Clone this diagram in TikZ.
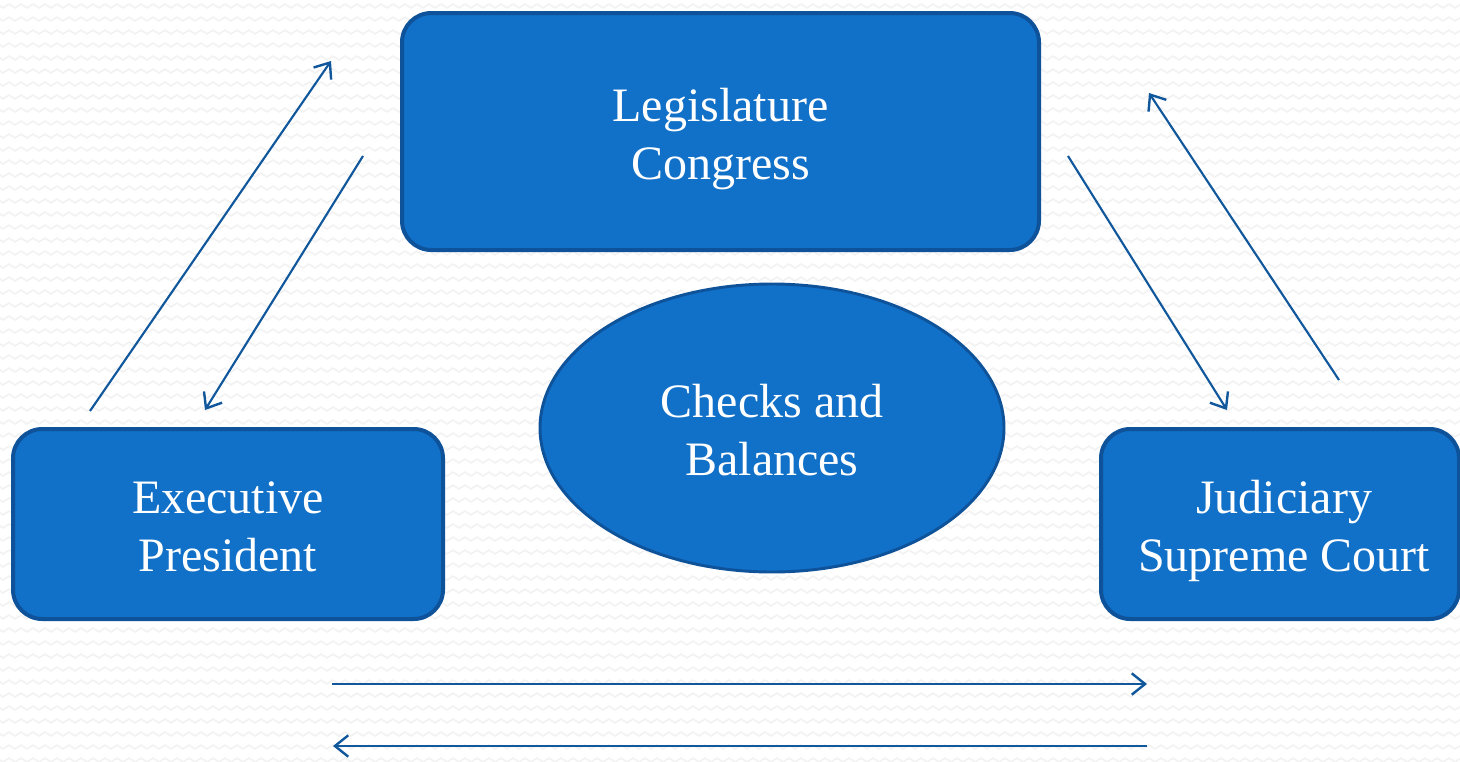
\documentclass[tikz,border=0pt]{standalone}
\usepackage{fontspec}
\setmainfont{Liberation Serif}
\usetikzlibrary{arrows.meta,shapes.geometric,decorations.pathmorphing,calc}
\definecolor{boxfill}{HTML}{1170C8}
\definecolor{boxline}{HTML}{0E529A}
\definecolor{arrowc}{HTML}{10579C}
\definecolor{zig}{HTML}{F2F2F2}
\tikzset{
  branch/.style={draw=boxline, fill=boxfill, line width=3pt, rounded corners=22pt, inner sep=0pt},
  hub/.style={ellipse, draw=boxline, fill=boxfill, line width=2.2pt, inner sep=0pt},
  caption/.style={text=white, align=center, font=\fontsize{36}{43.5}\selectfont, inner sep=0pt},
  check/.style={draw=arrowc, line width=1.6pt,
    -{Straight Barb[length=10pt,width=16pt,line width=1.8pt]}},
  bgzig/.style={draw=zig, line width=1.2pt, decorate,
    decoration={zigzag, segment length=9pt, amplitude=1.4pt}}
}
\begin{document}
\begin{tikzpicture}[x=0.75pt,y=-0.75pt]
  \useasboundingbox (0,0) rectangle (1460,761);
  % patterned backdrop
  \fill[white] (0,0) rectangle (1460,761);
  \begin{scope}
    \clip (0,0) rectangle (1460,761);
    \foreach \r in {0,...,60} {
      \draw[bgzig] (-6,{6+13*\r}) -- (1470,{6+13*\r});
    }
  \end{scope}

  % the three branches
  \node[branch, minimum width=637*0.75pt, minimum height=237*0.75pt] (leg) at (720.5,131.5) {};
  \node[branch, minimum width=430*0.75pt, minimum height=190*0.75pt] (exe) at (228,524) {};
  \node[branch, minimum width=358*0.75pt, minimum height=190*0.75pt] (jud) at (1280,524) {};

  % centre ellipse
  \node[hub, minimum width=464*0.75pt, minimum height=288*0.75pt] (cb) at (772,428) {};

  % captions
  \node[caption] (legtext) at ($(leg.center)+(0,8)$) {Legislature\\Congress};
  \node[caption] (exetext) at ($(exe.center)+(0,3)$) {Executive\\President};
  \node[caption] (judtext) at ($(jud.center)+(4,7)$) {Judiciary\\Supreme Court};
  \node[caption] (cbtext) at ($(cb.center)+(0,2)$) {Checks and\\Balances};

  % arrow end points
  \coordinate (a1s) at (90,411);   \coordinate (a1e) at (331,61);
  \coordinate (a2s) at (363,156);  \coordinate (a2e) at (205,410);
  \coordinate (a3s) at (1068,156); \coordinate (a3e) at (1227,410);
  \coordinate (a4s) at (1339,380); \coordinate (a4e) at (1149,93);
  \coordinate (a5s) at (332,684);  \coordinate (a5e) at (1147,684);
  \coordinate (a6s) at (1147,746); \coordinate (a6e) at (333,746);

  \draw[check] (a1s) -- (a1e);
  \draw[check] (a2s) -- (a2e);
  \draw[check] (a3s) -- (a3e);
  \draw[check] (a4s) -- (a4e);
  \draw[check] (a5s) -- (a5e);
  \draw[check] (a6s) -- (a6e);
\end{tikzpicture}
\end{document}
